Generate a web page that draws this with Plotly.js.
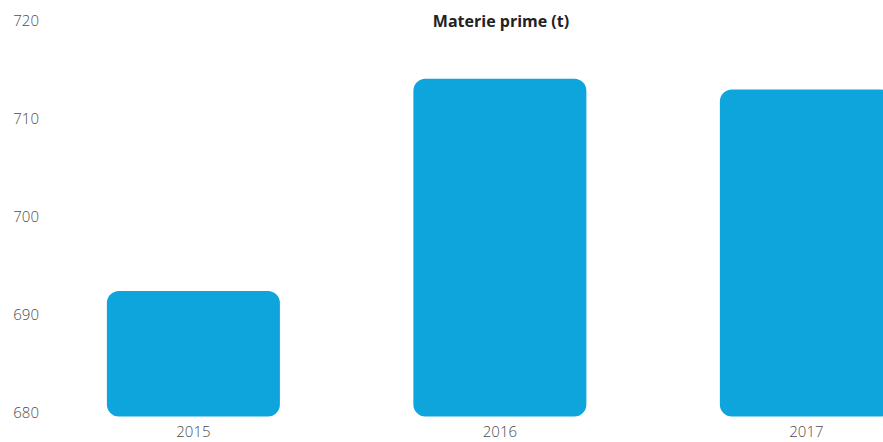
<!DOCTYPE html>
<html>
<head>
<meta charset="utf-8">
<script src="https://cdn.plot.ly/plotly-3.0.1.min.js"></script>
<style>html,body{margin:0;padding:0;background:#fff;}#chart{width:883px;height:442px;}</style>
</head>
<body>
<div id="chart"></div>
<script>
// Data
const years = ["2015", "2016", "2017"];
const values = [692.45, 714.1, 713.0];
const floorValue = 679.65;
const yTicks = [680, 690, 700, 710, 720];

const barColor = "#0EA5DC";
const tickFont = { family: "Open Sans, sans-serif", size: 15, color: "#4d4d4d", weight: 300 };

const barTrace = {
  type: "bar",
  x: years,
  base: years.map(() => floorValue),
  y: values.map(v => v - floorValue),
  width: 0.5645,
  marker: { color: barColor, cornerradius: 12, line: { width: 0 } },
  hoverinfo: "skip",
  showlegend: false
};

const layout = {
  width: 883,
  height: 442,
  margin: { l: 40, r: 0, t: 16, b: 24 },
  paper_bgcolor: "#ffffff",
  plot_bgcolor: "#ffffff",
  showlegend: false,
  title: {
    text: "<b>Materie prime (t)</b>",
    font: { family: "Open Sans, sans-serif", size: 16, color: "#222222" },
    xref: "container", yref: "container",
    x: 501 / 883, xanchor: "center",
    y: 1 - 21 / 442, yanchor: "middle"
  },
  xaxis: {
    type: "category",
    range: [-0.5005, 2.25],
    showgrid: false, zeroline: false, showline: false, ticks: "",
    ticklabelstandoff: 3,
    tickfont: tickFont
  },
  yaxis: {
    range: [679.5, 720.5],
    tickvals: yTicks,
    ticktext: yTicks.map(String),
    showgrid: false, zeroline: false, showline: false, ticks: "",
    tickfont: tickFont
  }
};

Plotly.newPlot("chart", [barTrace], layout, { displayModeBar: false, staticPlot: true });
</script>
</body>
</html>
